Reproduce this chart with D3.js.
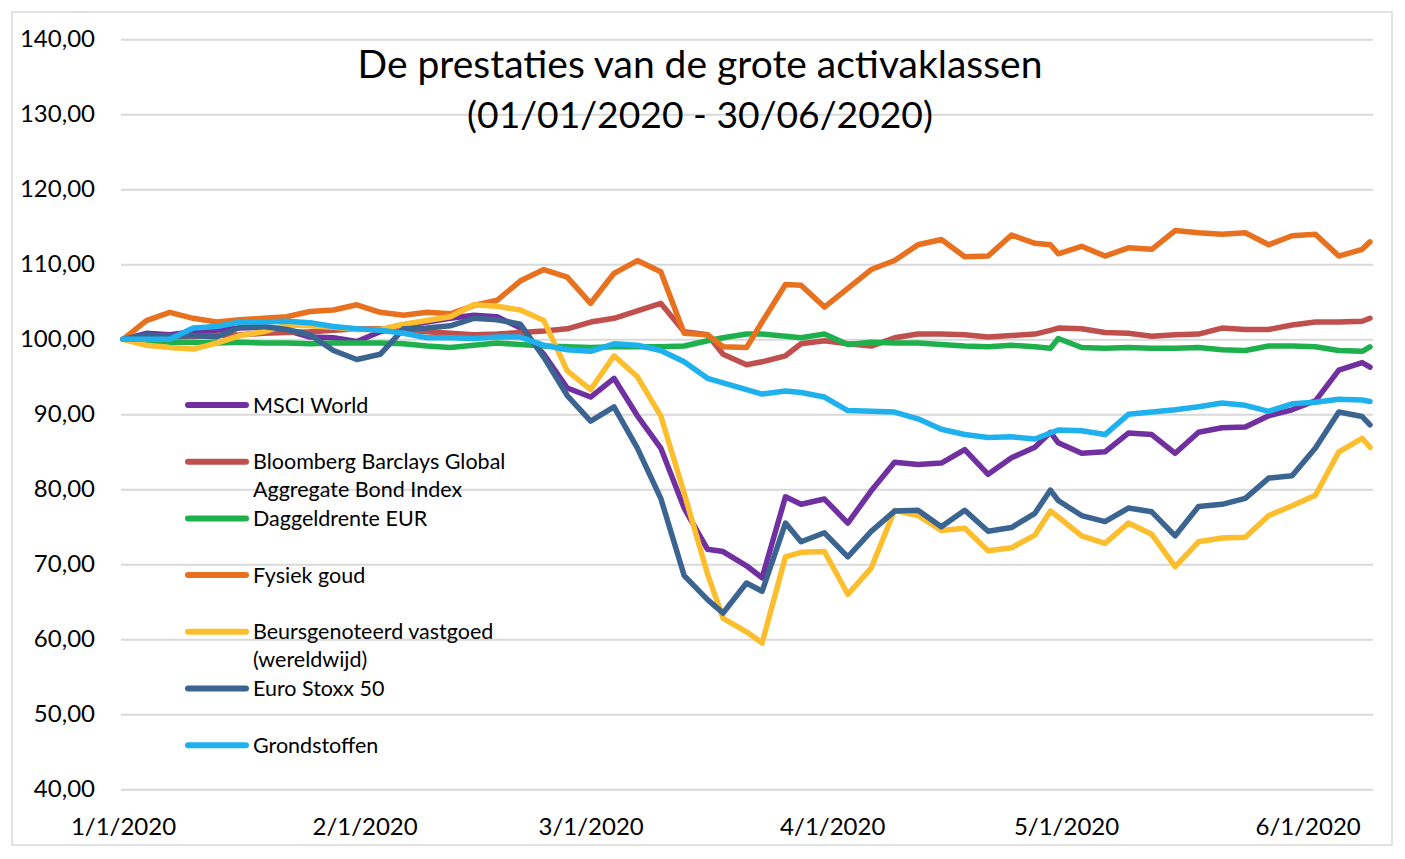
<!DOCTYPE html>
<html>
<head>
<meta charset="utf-8">
<script src="https://cdn.jsdelivr.net/npm/d3@7"></script>
<style>
  html, body { margin: 0; padding: 0; background: #fff; }
  svg { display: block; font-family: Lato, "Open Sans", sans-serif; }
</style>
</head>
<body>
<svg id="chart" width="1405" height="859"></svg>
<script>
// sample dates (roughly every 3 days, a bit denser around the March crash)
const dates = [
  "2020-01-01", "2020-01-04", "2020-01-07", "2020-01-10", "2020-01-13", "2020-01-16",
  "2020-01-19", "2020-01-22", "2020-01-25", "2020-01-28", "2020-01-31", "2020-02-03",
  "2020-02-06", "2020-02-09", "2020-02-12", "2020-02-15", "2020-02-18", "2020-02-21",
  "2020-02-24", "2020-02-27", "2020-03-01", "2020-03-04", "2020-03-07", "2020-03-10",
  "2020-03-13", "2020-03-16", "2020-03-18", "2020-03-21", "2020-03-23", "2020-03-26",
  "2020-03-28", "2020-03-31", "2020-04-03", "2020-04-06", "2020-04-09", "2020-04-12",
  "2020-04-15", "2020-04-18", "2020-04-21", "2020-04-24", "2020-04-27", "2020-04-29",
  "2020-04-30", "2020-05-03", "2020-05-06", "2020-05-09", "2020-05-12", "2020-05-15",
  "2020-05-18", "2020-05-21", "2020-05-24", "2020-05-27", "2020-05-30", "2020-06-02",
  "2020-06-05", "2020-06-08", "2020-06-09"
];

const msciWorld = [
  100, 100.8, 100.6, 101, 101.2, 101.5, 101.6, 101.2, 100.3, 100.2, 99.7, 101,
  101.8, 102.3, 102.8, 103.2, 103, 101.5, 98, 93.5, 92.3, 94.8, 89.8, 85.5,
  77.5, 72, 71.7, 69.8, 68.2, 79, 78, 78.7, 75.5, 79.8, 83.6, 83.3,
  83.5, 85.3, 82, 84.2, 85.6, 87.6, 86.2, 84.8, 85, 87.5, 87.3, 84.8,
  87.6, 88.2, 88.3, 89.8, 90.6, 91.8, 95.9, 96.9, 96.3
];

const bondIndex = [
  100, 100.2, 100.3, 100.4, 100.5, 100.6, 100.8, 100.9, 101, 101.2, 101.4, 101.4,
  101.2, 101, 100.8, 100.6, 100.7, 100.9, 101.1, 101.4, 102.3, 102.8, 103.8, 104.8,
  101, 100.6, 98, 96.6, 97, 97.8, 99.4, 99.8, 99.4, 99.1, 100.2, 100.7,
  100.7, 100.6, 100.3, 100.5, 100.7, 101.2, 101.5, 101.4, 100.9, 100.8, 100.4, 100.6,
  100.7, 101.5, 101.3, 101.3, 101.9, 102.3, 102.3, 102.4, 102.8
];

const daggeldrente = [
  100, 99.8, 99.6, 99.6, 99.5, 99.6, 99.5, 99.5, 99.4, 99.5, 99.5, 99.5,
  99.4, 99.1, 98.9, 99.2, 99.5, 99.3, 99.1, 99, 98.9, 99, 99, 99,
  99.1, 99.8, 100.2, 100.7, 100.7, 100.4, 100.2, 100.7, 99.3, 99.6, 99.5, 99.5,
  99.3, 99.1, 99, 99.2, 99, 98.8, 100.1, 98.9, 98.8, 98.9, 98.8, 98.8,
  98.9, 98.6, 98.5, 99.1, 99.1, 99, 98.5, 98.4, 99
];

const goud = [
  100, 102.5, 103.6, 102.8, 102.3, 102.6, 102.8, 103, 103.7, 103.9, 104.6, 103.6,
  103.2, 103.6, 103.4, 104.5, 105.2, 107.8, 109.3, 108.3, 104.8, 108.8, 110.5, 109,
  100.8, 100.6, 99, 98.9, 102.3, 107.3, 107.2, 104.3, 106.8, 109.3, 110.5, 112.6,
  113.3, 111, 111.1, 113.9, 112.8, 112.6, 111.4, 112.4, 111.1, 112.2, 112, 114.5,
  114.2, 114, 114.2, 112.6, 113.8, 114, 111.1, 112, 113
];

const vastgoed = [
  100, 99.2, 98.9, 98.7, 99.5, 100.5, 101, 101.9, 101.8, 101.6, 101.3, 101.3,
  102, 102.5, 103, 104.6, 104.4, 103.9, 102.5, 95.8, 93.3, 97.8, 95, 89.8,
  79.5, 68.7, 62.8, 61, 59.5, 71, 71.6, 71.7, 66, 69.5, 77.2, 76.5,
  74.5, 74.8, 71.8, 72.2, 73.9, 77.1, 76.3, 73.8, 72.8, 75.5, 74, 69.7,
  73, 73.5, 73.6, 76.5, 77.8, 79.2, 85, 86.8, 85.6
];

const euroStoxx = [
  100, 100.6, 100.4, 100.5, 100.3, 101.6, 101.7, 101.3, 100.6, 98.5, 97.3, 98,
  101.4, 101.5, 101.8, 102.8, 102.6, 102, 97.6, 92.5, 89.1, 91, 85.5, 78.8,
  68.5, 65.3, 63.5, 67.5, 66.4, 75.5, 73, 74.2, 71, 74.4, 77.1, 77.2,
  75, 77.2, 74.4, 74.9, 76.8, 79.9, 78.5, 76.5, 75.7, 77.5, 77, 73.8,
  77.7, 78, 78.8, 81.5, 81.8, 85.5, 90.3, 89.7, 88.6
];

const grondstoffen = [
  100, 100, 100, 101.5, 101.7, 102.3, 102.3, 102.4, 102.2, 101.7, 101.4, 101.2,
  100.8, 100.2, 100.2, 100.1, 100.3, 100.3, 99.2, 98.6, 98.4, 99.4, 99.2, 98.5,
  97, 94.8, 94.2, 93.3, 92.7, 93.1, 92.9, 92.3, 90.5, 90.4, 90.3, 89.4,
  88, 87.3, 86.9, 87, 86.7, 87.5, 87.9, 87.8, 87.3, 90, 90.3, 90.6,
  91, 91.5, 91.2, 90.4, 91.4, 91.6, 92, 91.9, 91.7
];

const seriesNames = [
  ["MSCI World"],
  ["Bloomberg Barclays Global", "Aggregate Bond Index"],
  ["Daggeldrente EUR"],
  ["Fysiek goud"],
  ["Beursgenoteerd vastgoed", "(wereldwijd)"],
  ["Euro Stoxx 50"],
  ["Grondstoffen"]
];
const seriesValues = [msciWorld, bondIndex, daggeldrente, goud, vastgoed, euroStoxx, grondstoffen];
const seriesColors = ["#7030A0", "#C0504D", "#1FB04E", "#E8711F", "#FDBE2E", "#3B6491", "#1EB1EE"];

const yTicks = [40, 50, 60, 70, 80, 90, 100, 110, 120, 130, 140];
const xTicks = ["2020-01-01", "2020-02-01", "2020-03-01", "2020-04-01", "2020-05-01", "2020-06-01"];
const titleLines = ["De prestaties van de grote activaklassen", "(01/01/2020 - 30/06/2020)"];

const parse = d3.timeParse("%Y-%m-%d");
const svg = d3.select("#chart");

// chart frame
svg.append("rect")
  .attr("x", 12).attr("y", 12)
  .attr("width", 1380).attr("height", 833)
  .attr("fill", "#fff")
  .attr("stroke", "#d9d9d9")
  .attr("stroke-width", 1.5);

const x = d3.scaleTime()
  .domain([parse(dates[0]), parse(dates[dates.length - 1])])
  .range([123, 1370]);

const y = d3.scaleLinear()
  .domain([40, 140])
  .range([789.3, 39.3]);

// horizontal gridlines + y labels
const yAxis = d3.axisLeft(y)
  .tickValues(yTicks)
  .tickSize(-(1373 - 121))
  .tickPadding(26)
  .tickFormat(d => d3.format(".2f")(d).replace(".", ","));

const gy = svg.append("g")
  .attr("transform", "translate(121,0)")
  .call(yAxis);
gy.select(".domain").remove();
gy.selectAll(".tick line").attr("stroke", "#d9d9d9").attr("stroke-width", 2);
gy.selectAll(".tick text")
  .attr("fill", "#000")
  .attr("font-size", 24)
  .attr("font-family", "Lato, sans-serif");

// x labels
const xAxis = d3.axisBottom(x)
  .tickValues(xTicks.map(parse))
  .tickSize(0)
  .tickPadding(0)
  .tickFormat(d3.timeFormat("%-m/%-d/%Y"));

const gx = svg.append("g")
  .attr("transform", "translate(0,812)")
  .call(xAxis);
gx.select(".domain").remove();
gx.selectAll(".tick text")
  .attr("fill", "#000")
  .attr("font-size", 24)
  .attr("font-family", "Lato, sans-serif")
  .attr("dy", "0.95em");

// lines
const line = d3.line()
  .x((d, i) => x(parse(dates[i])))
  .y(d => y(d));

svg.append("g")
  .selectAll("path")
  .data(seriesValues)
  .join("path")
  .attr("d", d => line(d))
  .attr("fill", "none")
  .attr("stroke", (d, i) => seriesColors[i])
  .attr("stroke-width", 5.5)
  .attr("stroke-linejoin", "round")
  .attr("stroke-linecap", "round");

// title, fitted to the width of the original
const titleW = [685, 466];
const title = svg.append("g");
titleLines.forEach((t, i) => {
  const el = title.append("text")
    .attr("x", 700)
    .attr("y", 78 + i * 50)
    .attr("text-anchor", "middle")
    .attr("font-size", 36)
    .attr("fill", "#000")
    .text(t);
  const w = el.node().getComputedTextLength();
  el.attr("font-size", 36 * titleW[i] / w);
});

// legend
const legend = svg.append("g");
seriesNames.forEach((names, i) => {
  const ly = 405 + i * 56.7;
  legend.append("line")
    .attr("x1", 188).attr("x2", 246)
    .attr("y1", ly).attr("y2", ly)
    .attr("stroke", seriesColors[i])
    .attr("stroke-width", 6)
    .attr("stroke-linecap", "round");
  names.forEach((n, j) => {
    legend.append("text")
      .attr("x", 253)
      .attr("y", ly + 7.5 + j * 28)
      .attr("font-size", 21.5)
      .attr("fill", "#000")
      .text(n);
  });
});
</script>
</body>
</html>
